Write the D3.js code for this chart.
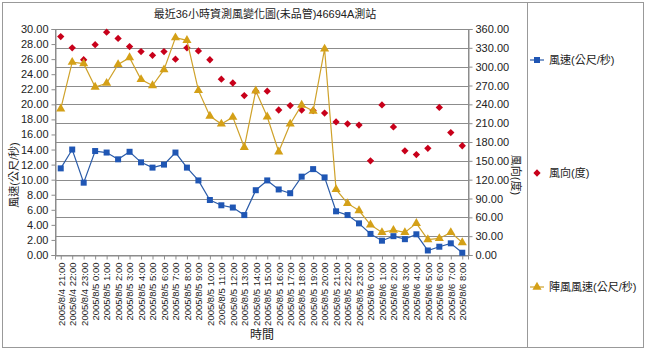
<!DOCTYPE html>
<html>
<head>
<meta charset="utf-8">
<script src="https://cdn.jsdelivr.net/npm/d3@7"></script>
<style>
  body { margin: 0; background: #fff; }
  svg text { font-family: "Liberation Sans", Arial, "Noto Sans CJK TC", sans-serif; fill: #222; }
</style>
</head>
<body>
<div id="chart"></div>
<script>
// categories (hourly observations)
const times = [
  "2005/8/4 21:00", "2005/8/4 22:00", "2005/8/4 23:00",
  "2005/8/5 0:00", "2005/8/5 1:00", "2005/8/5 2:00", "2005/8/5 3:00",
  "2005/8/5 4:00", "2005/8/5 5:00", "2005/8/5 6:00", "2005/8/5 7:00",
  "2005/8/5 8:00", "2005/8/5 9:00", "2005/8/5 10:00", "2005/8/5 11:00",
  "2005/8/5 12:00", "2005/8/5 13:00", "2005/8/5 14:00", "2005/8/5 15:00",
  "2005/8/5 16:00", "2005/8/5 17:00", "2005/8/5 18:00", "2005/8/5 19:00",
  "2005/8/5 20:00", "2005/8/5 21:00", "2005/8/5 22:00", "2005/8/5 23:00",
  "2005/8/6 0:00", "2005/8/6 1:00", "2005/8/6 2:00", "2005/8/6 3:00",
  "2005/8/6 4:00", "2005/8/6 5:00", "2005/8/6 6:00", "2005/8/6 7:00",
  "2005/8/6 8:00"
];

// 風速 (m/s) - left axis
const windSpeed = [
  11.5, 14.0, 9.6, 13.8, 13.6, 12.7, 13.7, 12.3, 11.6, 12.0,
  13.6, 11.6, 9.9, 7.3, 6.6, 6.3, 5.3, 8.6, 9.9, 8.7,
  8.2, 10.4, 11.4, 10.3, 5.8, 5.3, 4.2, 2.8, 1.9, 2.5,
  2.1, 2.75, 0.6, 1.1, 1.55, 0.3
];

// 風向 (deg) - right axis
const windDir = [
  348, 330, 311, 335, 355, 345, 332, 324, 318, 324,
  312, 330, 325, 311, 280, 274, 254, 261, 261, 231,
  238, 231, 230, 226, 212, 209, 207, 150, 239, 204,
  166, 160, 170, 235, 195, 174
];

// 陣風風速 (m/s) - left axis
const gust = [
  19.4, 25.6, 25.4, 22.3, 22.8, 25.3, 26.2, 23.3, 22.5, 24.6,
  28.85, 28.5, 21.85, 18.45, 17.4, 18.3, 14.3, 21.8, 18.35, 13.7,
  17.4, 19.9, 19.1, 27.35, 8.7, 6.85, 5.9, 4.0, 3.0, 3.3,
  3.0, 4.2, 2.05, 2.2, 3.0, 1.65
];

const leftTicks = d3.range(0, 30.001, 2);
const rightTicks = d3.range(0, 360.001, 30);

const W = 645, H = 350;
const plot = { left: 55, right: 468, top: 29, bottom: 255 };

const svg = d3.select("#chart").append("svg")
  .attr("width", W).attr("height", H);

// outer frame + legend divider
svg.append("rect")
  .attr("x", 2.5).attr("y", 2.5).attr("width", W - 4).attr("height", 345)
  .attr("fill", "none").attr("stroke", "#999");
svg.append("line")
  .attr("x1", 527.5).attr("x2", 527.5).attr("y1", 2.5).attr("y2", 347.5)
  .attr("stroke", "#999");

// scales
const x = d3.scalePoint().domain(times).range([plot.left, plot.right]).padding(0.5);
const yL = d3.scaleLinear().domain([0, 30]).range([plot.bottom, plot.top]);
const yR = d3.scaleLinear().domain([0, 360]).range([plot.bottom, plot.top]);

// gridlines (follow right axis)
svg.append("g").selectAll("line")
  .data(rightTicks.slice(1))
  .join("line")
  .attr("x1", plot.left).attr("x2", plot.right)
  .attr("y1", d => Math.round(yR(d)) + 0.5).attr("y2", d => Math.round(yR(d)) + 0.5)
  .attr("stroke", "#8c8c8c");

// plot border
svg.append("rect")
  .attr("x", plot.left + 0.5).attr("y", plot.top + 0.5)
  .attr("width", plot.right - plot.left).attr("height", plot.bottom - plot.top)
  .attr("fill", "none").attr("stroke", "#8c8c8c");

// axes
const styleAxis = g => {
  g.select(".domain").attr("stroke", "#8c8c8c");
  g.selectAll(".tick line").attr("stroke", "#8c8c8c");
  g.selectAll(".tick text").attr("fill", "#222").style("font-size", "11px");
};

svg.append("g")
  .attr("transform", `translate(${plot.left + 0.5},0)`)
  .call(d3.axisLeft(yL).tickValues(leftTicks).tickFormat(d3.format(".2f")).tickSize(4).tickPadding(3))
  .call(styleAxis);

svg.append("g")
  .attr("transform", `translate(${plot.right + 0.5},0)`)
  .call(d3.axisRight(yR).tickValues(rightTicks).tickFormat(d3.format(".2f")).tickSize(4).tickPadding(3))
  .call(styleAxis);

const xAxis = svg.append("g")
  .attr("transform", `translate(0,${plot.bottom + 0.5})`)
  .call(d3.axisBottom(x).tickSize(4).tickPadding(3))
  .call(styleAxis);
xAxis.selectAll(".tick text")
  .style("font-size", "9.5px")
  .attr("text-anchor", "end")
  .attr("dy", "0.35em")
  .attr("transform", "translate(0,4) rotate(-90)")
  .attr("x", -3).attr("y", 0);

// series: 風速
const blue = "#1f56b4";
svg.append("path")
  .datum(windSpeed)
  .attr("fill", "none").attr("stroke", "#2a5ba8").attr("stroke-width", 1.2)
  .attr("d", d3.line().x((d, i) => x(times[i])).y(d => yL(d)));
svg.append("g").selectAll("rect")
  .data(windSpeed)
  .join("rect")
  .attr("x", (d, i) => x(times[i]) - 3).attr("y", d => yL(d) - 3)
  .attr("width", 6).attr("height", 6)
  .attr("fill", blue);

// series: 風向
const red = "#c8001a";
const diamond = d3.symbol().type(d3.symbolDiamond2).size(34);
svg.append("g").selectAll("path")
  .data(windDir)
  .join("path")
  .attr("transform", (d, i) => `translate(${x(times[i])},${yR(d)})`)
  .attr("d", diamond)
  .attr("fill", red);

// series: 陣風風速
const gold = "#d4a017";
const tri = d3.symbol().type(d3.symbolTriangle).size(36);
svg.append("path")
  .datum(gust)
  .attr("fill", "none").attr("stroke", "#cfa22a").attr("stroke-width", 1.2)
  .attr("d", d3.line().x((d, i) => x(times[i])).y(d => yL(d)));
svg.append("g").selectAll("path")
  .data(gust)
  .join("path")
  .attr("transform", (d, i) => `translate(${x(times[i])},${yL(d)})`)
  .attr("d", tri)
  .attr("fill", gold);

// title & axis titles
svg.append("text")
  .attr("x", 265).attr("y", 18)
  .attr("text-anchor", "middle")
  .style("font-size", "11px")
  .text("最近36小時資測風變化圖(未品管)46694A測站");

svg.append("text")
  .attr("transform", "translate(18,175) rotate(-90)")
  .attr("text-anchor", "middle")
  .style("font-size", "11px")
  .text("風速(公尺/秒)");

svg.append("text")
  .attr("transform", "translate(512,175) rotate(90)")
  .attr("text-anchor", "middle")
  .style("font-size", "11px")
  .text("風向(度)");

svg.append("text")
  .attr("x", 262).attr("y", 339)
  .attr("text-anchor", "middle")
  .style("font-size", "12px")
  .text("時間");

// legend
const legend = svg.append("g");
const lg1 = legend.append("g").attr("transform", "translate(537,60)");
lg1.append("line").attr("x1", -7).attr("x2", 7).attr("stroke", "#2a5ba8").attr("stroke-width", 1.2);
lg1.append("rect").attr("x", -3).attr("y", -3).attr("width", 6).attr("height", 6).attr("fill", blue);
lg1.append("text").attr("x", 12).attr("dy", "0.35em").style("font-size", "11px").text("風速(公尺/秒)");

const lg2 = legend.append("g").attr("transform", "translate(537,173)");
lg2.append("path").attr("d", diamond).attr("fill", red);
lg2.append("text").attr("x", 12).attr("dy", "0.35em").style("font-size", "11px").text("風向(度)");

const lg3 = legend.append("g").attr("transform", "translate(537,287)");
lg3.append("line").attr("x1", -7).attr("x2", 7).attr("stroke", "#cfa22a").attr("stroke-width", 1.2);
lg3.append("path").attr("d", tri).attr("fill", gold);
lg3.append("text").attr("x", 12).attr("dy", "0.35em").style("font-size", "11px").text("陣風風速(公尺/秒)");
</script>
</body>
</html>
